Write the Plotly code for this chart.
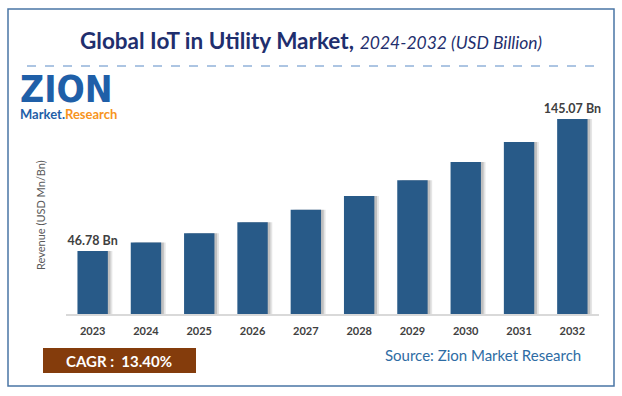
import plotly.graph_objects as go

years = ["2023", "2024", "2025", "2026", "2027", "2028", "2029", "2030", "2031", "2032"]
revenue = [46.78, 53.1, 60.1, 68.2, 77.6, 87.8, 99.5, 113.0, 127.9, 145.07]
label_text = ["46.78 Bn", "", "", "", "", "", "", "", "", "145.07 Bn"]

W, H = 622, 396
L, R, T, B = 66, 599, 110, 314  # plot area in pixels


def px(x):
    return (x - L) / (R - L)


def py(y):
    return (B - y) / (B - T)


BAR_W = 0.57
FONT = "Lato"

fig = go.Figure()
# soft right-side shadow
for sh, op in [(0.085, 0.10), (0.05, 0.16)]:
    fig.add_trace(go.Bar(
        x=years, y=revenue, width=BAR_W, offset=-BAR_W / 2 + sh,
        marker=dict(color=f"rgba(0,0,0,{op})", line=dict(width=0)),
        hoverinfo="skip", showlegend=False))
fig.add_trace(go.Bar(
    x=years, y=revenue, width=BAR_W, offset=-BAR_W / 2,
    marker=dict(color="#285A88", line=dict(width=0)),
    text=label_text, textposition="outside", cliponaxis=False, constraintext="none",
    textfont=dict(family=FONT, size=12.5, color="#404040", weight="bold"),
    showlegend=False))

fig.update_layout(
    width=W, height=H, barmode="overlay",
    margin=dict(l=L, r=W - R, t=T, b=H - B),
    paper_bgcolor="white", plot_bgcolor="white",
    font=dict(family=FONT),
    xaxis=dict(type="category", range=[-0.5, 9.5], showgrid=False,
               showline=True, linecolor="#D9D9D9", linewidth=1.5,
               ticks="", ticklabelstandoff=6,
               tickfont=dict(family=FONT, size=11, color="#404040", weight="bold")),
    yaxis=dict(range=[0, 145.07 * (B - T) / 195.0], visible=False, showgrid=False),
)

shapes = [
    # outer border
    dict(type="rect", xref="paper", yref="paper", x0=px(8), x1=px(614), y0=py(386), y1=py(9),
         line=dict(color="#4A75A5", width=1.5), fillcolor="rgba(0,0,0,0)", layer="below"),
    # dashed separator
    dict(type="line", xref="paper", yref="paper", x0=px(27), x1=px(597), y0=py(66), y1=py(66),
         line=dict(color="#5B8BC6", width=1, dash="dash")),
    # CAGR box
    dict(type="rect", xref="paper", yref="paper", x0=px(43), x1=px(196), y0=py(373), y1=py(348),
         line=dict(width=0), fillcolor="#843C0C"),
]

logo_text = ("<span style='font-family:DejaVu Sans Condensed;font-size:37px'><b>ZION</b></span><br>"
             "<b>Market.<span style='color:#F7941D'>Research</span></b>")

annotations = [
    dict(xref="paper", yref="paper", x=px(311), y=py(40), showarrow=False,
         text="<b>Global IoT in Utility Market,</b> <i style='font-size:17.5px'>2024-2032 (USD Billion)</i>",
         font=dict(family=FONT, size=22.5, color="#1F2F6E"), xanchor="center", yanchor="middle"),
    dict(xref="paper", yref="paper", x=px(40), y=py(215), showarrow=False, textangle=-90,
         text="Revenue (USD Mn/Bn)", font=dict(family=FONT, size=11, color="#595959"),
         xanchor="center", yanchor="middle"),
    dict(xref="paper", yref="paper", x=px(119), y=py(361), showarrow=False,
         text="<b>CAGR :  13.40%</b>", font=dict(family=FONT, size=15, color="white"),
         xanchor="center", yanchor="middle"),
    dict(xref="paper", yref="paper", x=px(583), y=py(355), showarrow=False,
         text="Source: Zion Market Research", font=dict(family=FONT, size=15, color="#2E6CA4"),
         xanchor="right", yanchor="middle"),
    # logo
    dict(xref="paper", yref="paper", x=px(18), y=py(124), showarrow=False,
         text=logo_text, align="left",
         font=dict(family=FONT, size=13, color="#1F5FA8"),
         xanchor="left", yanchor="bottom"),
]

fig.update_layout(shapes=shapes, annotations=annotations)
fig.write_html("out.html", config={"displayModeBar": False},
               post_script="document.body.style.margin='0px';")
